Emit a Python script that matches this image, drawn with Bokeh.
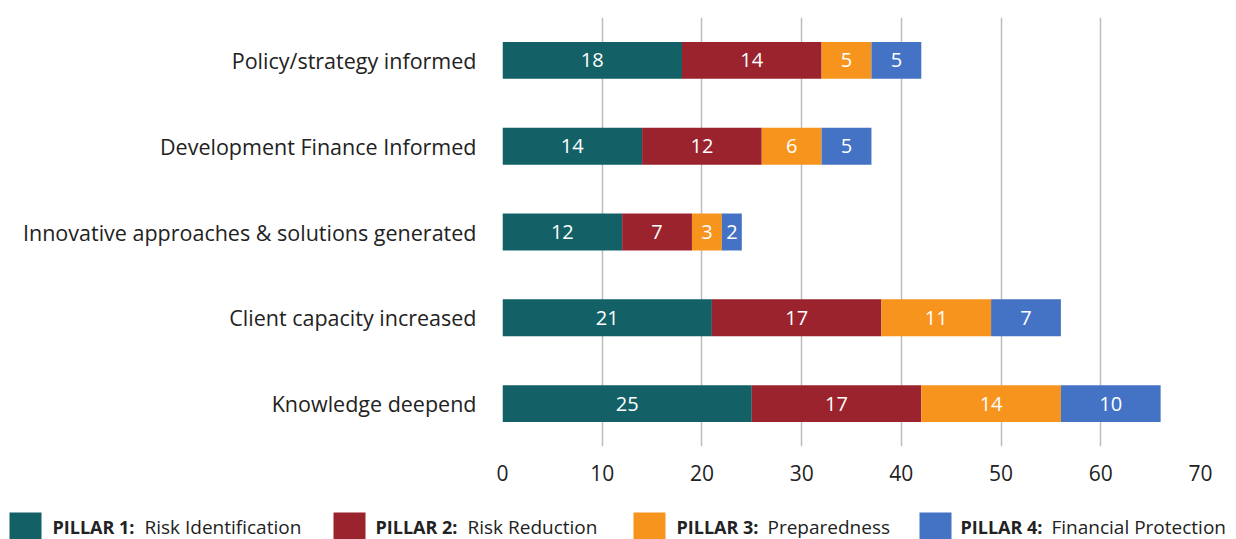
from bokeh.plotting import figure
from bokeh.models import ColumnDataSource, FactorRange, Range1d, FixedTicker
from bokeh.layouts import column
from bokeh.core.properties import value
from bokeh.embed import file_html
from bokeh.resources import INLINE

categories = ["Policy/strategy informed", "Development Finance Informed",
              "Innovative approaches & solutions generated",
              "Client capacity increased", "Knowledge deepend"]
pillar1 = [18, 14, 12, 21, 25]
pillar2 = [14, 12, 7, 17, 17]
pillar3 = [5, 6, 3, 11, 14]
pillar4 = [5, 5, 2, 7, 10]
x_ticks = [0, 10, 20, 30, 40, 50, 60, 70]
legend_bold = ["PILLAR 1:", "PILLAR 2:", "PILLAR 3:", "PILLAR 4:"]
legend_text = ["Risk Identification", "Risk Reduction", "Preparedness", "Financial Protection"]
colors = ["#136167", "#9A232D", "#F7941D", "#4472C4"]
FONT = "Open Sans"
TXT = "#222222"

series = [pillar1, pillar2, pillar3, pillar4]
keys = ["p1", "p2", "p3", "p4"]
data = {"cat": categories}
for k, s in zip(keys, series):
    data[k] = s
src = ColumnDataSource(data)

p = figure(width=1236, height=500, output_backend="svg", toolbar_location=None,
           y_range=FactorRange(factors=list(reversed(categories)), range_padding=0,
                               range_padding_units="absolute"),
           x_range=Range1d(0, 70),
           min_border_left=502, min_border_right=36, min_border_top=17,
           min_border_bottom=54)
p.outline_line_color = None
p.hbar_stack(keys, y="cat", height=0.43, color=colors, source=src, line_color=None)

# segment labels
lx, ly, lt = [], [], []
for i, c in enumerate(categories):
    left = 0
    for s in series:
        v = s[i]
        lx.append(left + v / 2)
        ly.append(c)
        lt.append(str(v))
        left += v
p.text(x=lx, y=ly, text=lt, text_color="white", text_align="center",
       text_baseline="middle", text_font=value(FONT), text_font_size="20px")

p.xgrid.ticker = FixedTicker(ticks=x_ticks)
p.xgrid.grid_line_color = "#BDBDBD"
p.xgrid.grid_line_width = 1.5
p.ygrid.grid_line_color = None

p.xaxis.ticker = FixedTicker(ticks=x_ticks)
p.xaxis.axis_line_color = None
p.xaxis.major_tick_line_color = None
p.xaxis.major_tick_out = 0
p.xaxis.major_tick_in = 0
p.xaxis.minor_tick_line_color = None
p.xaxis.major_label_standoff = 18
p.xaxis.major_label_text_font = FONT
p.xaxis.major_label_text_font_size = "21px"
p.xaxis.major_label_text_color = TXT

p.yaxis.axis_line_color = None
p.yaxis.major_tick_line_color = None
p.yaxis.major_tick_out = 0
p.yaxis.major_tick_in = 0
p.yaxis.major_label_standoff = 26
p.yaxis.major_label_text_font = FONT
p.yaxis.major_label_text_font_size = "21.5px"
p.yaxis.major_label_text_color = TXT

# legend figure (pixel-like coordinates)
lg = figure(width=1236, height=39, output_backend="svg", toolbar_location=None,
            x_range=Range1d(0, 1236), y_range=Range1d(0, 39),
            min_border=0, frame_align=False)
lg.axis.visible = False
lg.grid.visible = False
lg.outline_line_color = None
sq_x = [9, 333, 633, 919]
bold_x = [52, 375, 676, 960]
txt_x = [144, 467, 767, 1051]
lg.rect(x=[v + 16 for v in sq_x], y=[11] * 4, width=32, height=32, color=colors, line_color=None)
lg.text(x=bold_x, y=[13] * 4, text=legend_bold, text_font=value(FONT), text_font_style="bold",
        text_font_size="18px", text_color=TXT, text_baseline="middle")
lg.text(x=txt_x, y=[13] * 4, text=legend_text, text_font=value(FONT),
        text_font_size="19px", text_color=TXT, text_baseline="middle")

layout = column(p, lg, spacing=0)
open("out.html", "w").write(file_html(layout, INLINE))
